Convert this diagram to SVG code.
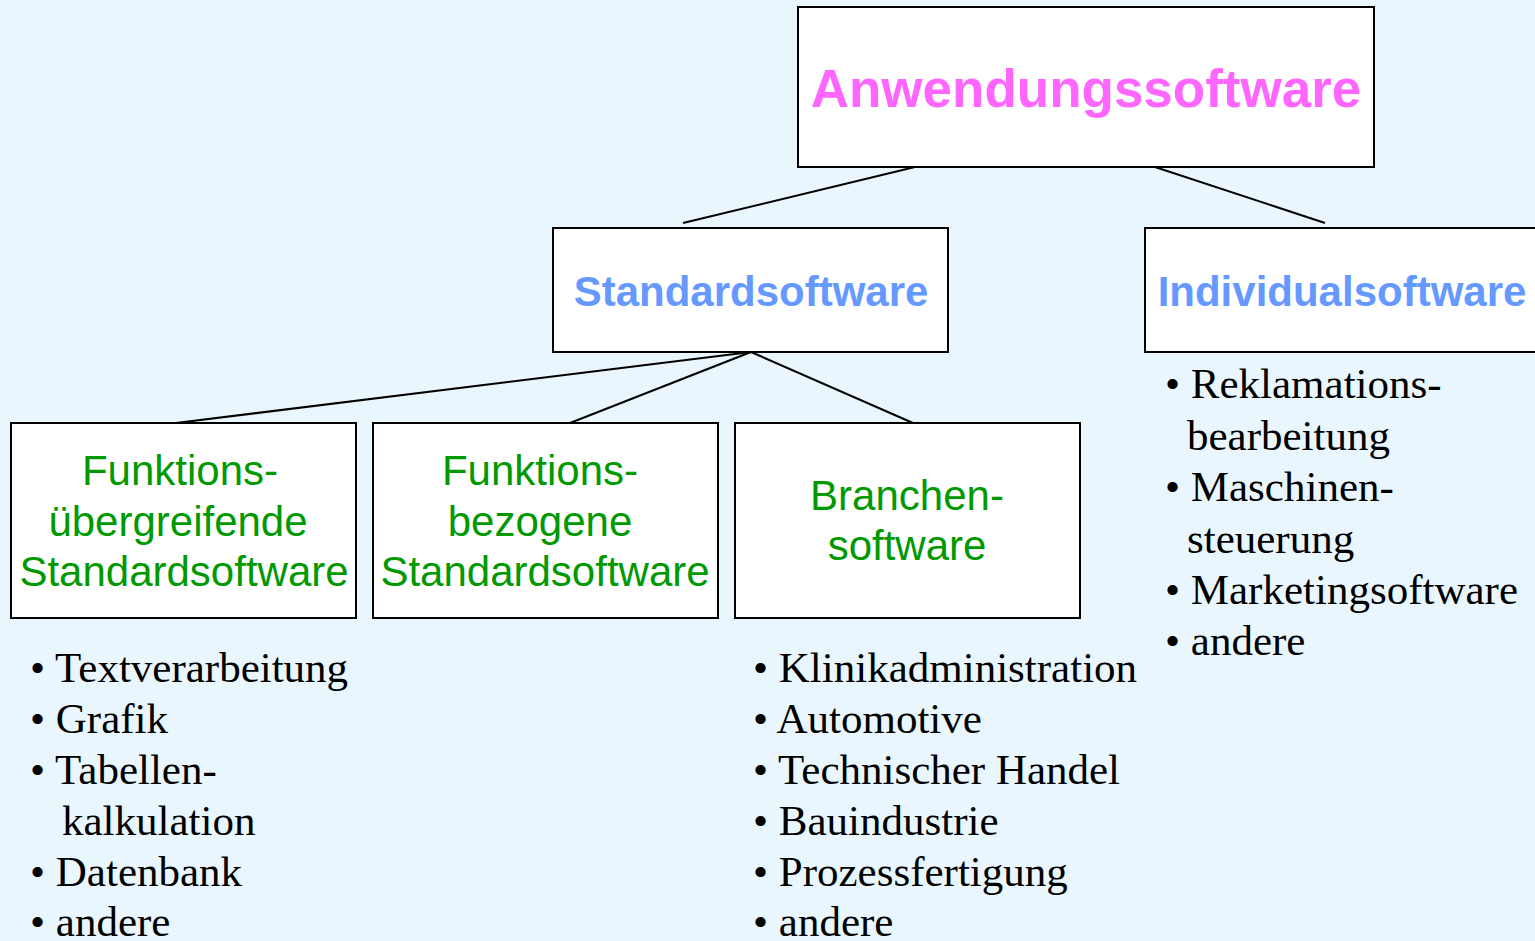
<svg xmlns="http://www.w3.org/2000/svg" width="1535" height="941" viewBox="0 0 1535 941">
<style>
.box{fill:#FFFFFF;stroke:#000000;stroke-width:2}
.conn line{stroke:#000000;stroke-width:2}
.t1{font-family:"Liberation Sans",Arial,sans-serif;font-weight:bold;font-size:53px;fill:#FF66FF;text-anchor:middle}
.t2{font-family:"Liberation Sans",Arial,sans-serif;font-weight:bold;font-size:42px;fill:#6699FF;text-anchor:middle}
.t3{font-family:"Liberation Sans",Arial,sans-serif;font-size:42px;fill:#009900;text-anchor:middle}
.li{font-family:"Liberation Serif","Times New Roman",serif;font-size:43px;fill:#000000}
</style>
<rect x="0" y="0" width="1535" height="941" fill="#E9F6FE"/>
<g id="connectors" class="conn">
<line x1="915" y1="167" x2="683" y2="223"/>
<line x1="1155" y1="167" x2="1325" y2="223"/>
<line x1="751" y1="352" x2="176" y2="423"/>
<line x1="751" y1="352" x2="570" y2="423"/>
<line x1="751" y1="352" x2="913" y2="423"/>
</g>
<g id="anwendungssoftware">
<rect class="box" x="798" y="7" width="576" height="160"/>
<text class="t1" x="1086" y="107">Anwendungssoftware</text>
</g>
<g id="standardsoftware">
<rect class="box" x="553" y="228" width="395" height="124"/>
<text class="t2" x="751" y="306">Standardsoftware</text>
</g>
<g id="individualsoftware">
<rect class="box" x="1145" y="228" width="400" height="124"/>
<text class="t2" x="1342" y="306">Individualsoftware</text>
</g>
<g id="funktionsuebergreifend">
<rect class="box" x="11" y="423" width="345" height="195"/>
<text class="t3" x="180" y="485">Funktions-</text>
<text class="t3" x="178" y="536">übergreifende</text>
<text class="t3" x="184" y="586">Standardsoftware</text>
</g>
<g id="funktionsbezogen">
<rect class="box" x="373" y="423" width="345" height="195"/>
<text class="t3" x="540" y="485">Funktions-</text>
<text class="t3" x="540" y="536">bezogene</text>
<text class="t3" x="545" y="586">Standardsoftware</text>
</g>
<g id="branchensoftware">
<rect class="box" x="735" y="423" width="345" height="195"/>
<text class="t3" x="907" y="510">Branchen-</text>
<text class="t3" x="907" y="560">software</text>
</g>
<g id="list-standard">
<text class="li" x="30" y="682">• Textverarbeitung</text>
<text class="li" x="30" y="733">• Grafik</text>
<text class="li" x="30" y="784">• Tabellen-</text>
<text class="li" x="62" y="835">kalkulation</text>
<text class="li" x="30" y="886">• Datenbank</text>
<text class="li" x="30" y="936">• andere</text>
</g>
<g id="list-branchen">
<text class="li" x="753" y="682">• Klinikadministration</text>
<text class="li" x="753" y="733">• Automotive</text>
<text class="li" x="753" y="784">• Technischer Handel</text>
<text class="li" x="753" y="835">• Bauindustrie</text>
<text class="li" x="753" y="886">• Prozessfertigung</text>
<text class="li" x="753" y="936">• andere</text>
</g>
<g id="list-individual">
<text class="li" x="1165" y="398">• Reklamations-</text>
<text class="li" x="1187" y="450">bearbeitung</text>
<text class="li" x="1165" y="501">• Maschinen-</text>
<text class="li" x="1187" y="553">steuerung</text>
<text class="li" x="1165" y="604">• Marketingsoftware</text>
<text class="li" x="1165" y="655">• andere</text>
</g>
</svg>
